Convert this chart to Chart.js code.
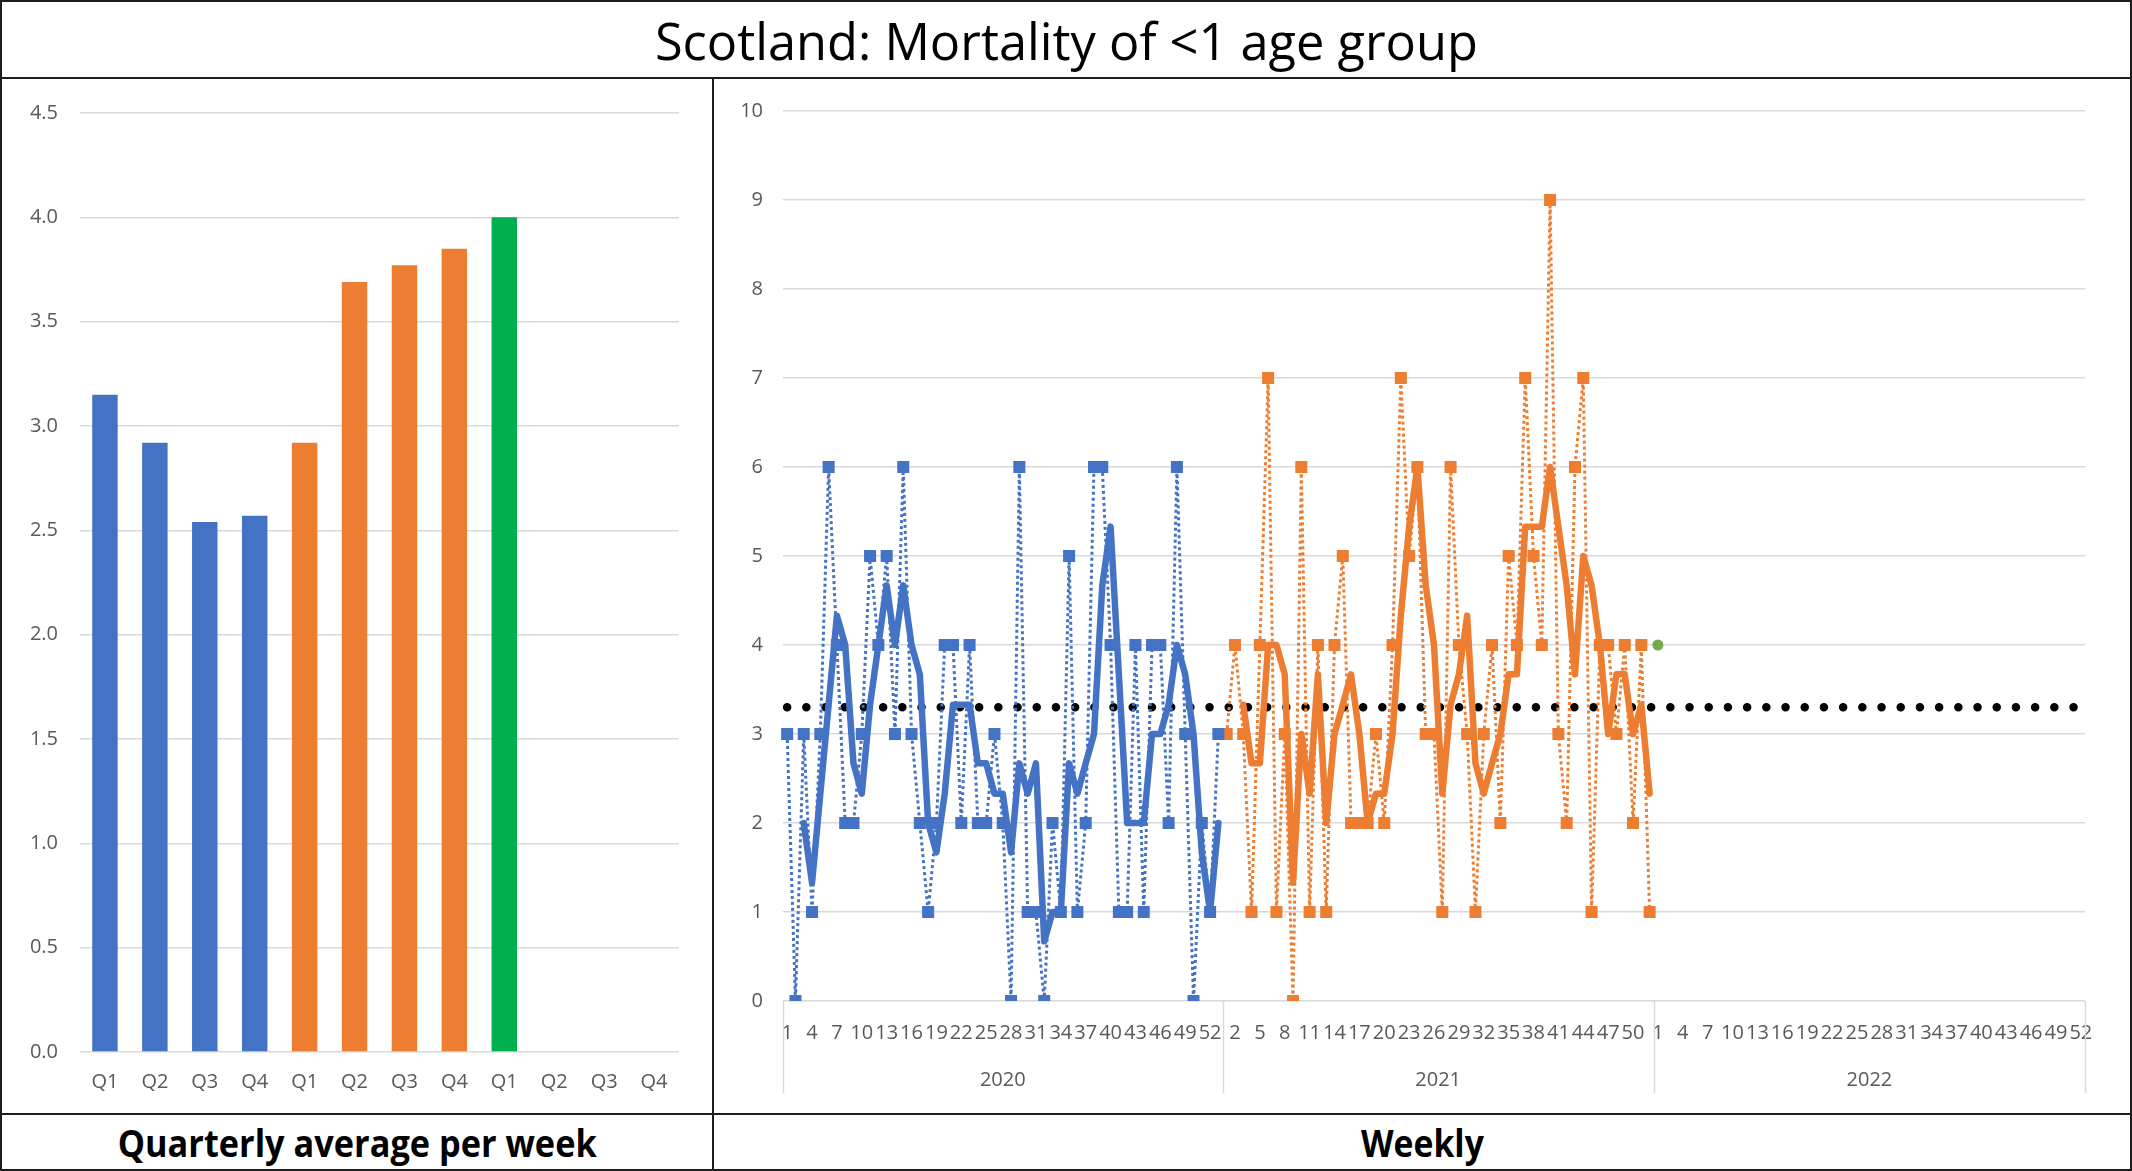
<!DOCTYPE html>
<html>
<head>
<meta charset="utf-8">
<script src="https://cdn.jsdelivr.net/npm/chart.js@4/dist/chart.umd.min.js"></script>
<style>
  html, body { margin: 0; padding: 0; background: #fff; }
  body { width: 2132px; height: 1171px; position: relative; overflow: hidden; font-family: 'Open Sans', sans-serif; }
  .line { position: absolute; background: #1e1e1e; }
  .cell { position: absolute; display: flex; align-items: center; justify-content: center; }
  .txt { display: inline-block; white-space: nowrap; transform-origin: center center; }
  #c1wrap { position: absolute; left: 2px; top: 79px; width: 710px; height: 1034px; }
  #c2wrap { position: absolute; left: 714px; top: 79px; width: 1416px; height: 1034px; }
</style>
</head>
<body>
<div class="line" style="left:0;top:0;width:2132px;height:2px"></div>
<div class="line" style="left:0;top:77px;width:2132px;height:2px"></div>
<div class="line" style="left:0;top:1113px;width:2132px;height:2px"></div>
<div class="line" style="left:0;top:1169px;width:2132px;height:2px"></div>
<div class="line" style="left:0;top:0;width:2px;height:1171px"></div>
<div class="line" style="left:2130px;top:0;width:2px;height:1171px"></div>
<div class="line" style="left:712px;top:77px;width:2px;height:1094px"></div>

<div class="cell" style="left:2px;top:2px;width:2128px;height:75px"><span class="txt" id="title" style="font-size:52px;color:#000">Scotland: Mortality of &lt;1 age group</span></div>
<div class="cell" style="left:2px;top:1115px;width:710px;height:54px"><span class="txt" id="lab1" style="font-size:37px;font-weight:700;color:#000">Quarterly average per week</span></div>
<div class="cell" style="left:714px;top:1115px;width:1416px;height:54px"><span class="txt" id="lab2" style="font-size:37px;font-weight:700;color:#000">Weekly</span></div>

<div id="c1wrap"><canvas id="c1"></canvas></div>
<div id="c2wrap"><canvas id="c2"></canvas></div>

<script>
// ---------------- DATA ----------------
const QUARTER_LABELS = ['Q1','Q2','Q3','Q4','Q1','Q2','Q3','Q4','Q1','Q2','Q3','Q4'];
const QUARTER_AVG = [3.15, 2.92, 2.54, 2.57, 2.92, 3.69, 3.77, 3.85, 4.00, null, null, null];
const QUARTER_YEAR = [2020, 2020, 2020, 2020, 2021, 2021, 2021, 2021, 2022, 2022, 2022, 2022];

const YEARS = ['2020', '2021', '2022'];
const WEEKS_IN_YEAR = [53, 52, 52];

const WEEKLY_2020 = [3,0,3,1,3,6,4,2,2,3,5,4,5,3,6,3,2,1,2,4,4,2,4,2,2,3,2,0,6,1,1,0,2,1,5,1,2,6,6,4,1,1,4,1,4,4,2,6,3,0,2,1,3];
const WEEKLY_2021 = [3,4,3,1,4,7,1,3,0,6,1,4,1,4,5,2,2,2,3,2,4,7,5,6,3,3,1,6,4,3,1,3,4,2,5,4,7,5,4,9,3,2,6,7,1,4,4,3,4,2,4,1];
const WEEKLY_2022 = [4];

// 3-week moving average trendlines (as drawn), starting at week 3 of each year
const MOVAVG_2020 = [2,1.33,2.33,3.33,4.33,4,2.67,2.33,3.33,4,4.67,4,4.67,4,3.67,2,1.67,2.33,3.33,3.33,3.33,2.67,2.67,2.33,2.33,1.67,2.67,2.33,2.67,0.67,1,1,2.67,2.33,2.67,3,4.67,5.33,3.67,2,2,2,3,3,3.33,4,3.67,3,1.67,1,2];
const MOVAVG_2021 = [3.33,2.67,2.67,4,4,3.67,1.33,3,2.33,3.67,2,3,3.33,3.67,3,2,2.33,2.33,3,4.33,5.33,6,4.67,4,2.33,3.33,3.67,4.33,2.67,2.33,2.67,3,3.67,3.67,5.33,5.33,5.33,6,5.33,4.67,3.67,5,4.67,4,3,3.67,3.67,3,3.33,2.33];

const AVG_LEVEL = 3.3;

// ---------------- STYLE ----------------
const BLUE = '#4472C4', ORANGE = '#ED7D31', GREEN_BAR = '#00B050', GREEN_PT = '#70AD47';
const GRID = '#d9d9d9', TICK = '#595959';
const FONT = "'Open Sans', sans-serif";
Chart.defaults.font.family = FONT;
Chart.defaults.color = TICK;

// ---------------- fit HTML labels ----------------
function fitWidth(id, target) {
  const el = document.getElementById(id);
  const w = el.getBoundingClientRect().width;
  if (w > 0) el.style.transform = 'scaleX(' + (target / w) + ')';
}
fitWidth('title', 823);
fitWidth('lab1', 479);
fitWidth('lab2', 123);

// ---------------- LEFT: quarterly bars ----------------
const yearColor = { 2020: BLUE, 2021: ORANGE, 2022: GREEN_BAR };
new Chart(document.getElementById('c1'), {
  type: 'bar',
  data: {
    labels: QUARTER_LABELS,
    datasets: [{
      data: QUARTER_AVG,
      backgroundColor: QUARTER_YEAR.map(y => yearColor[y]),
      borderWidth: 0,
      barPercentage: 0.51,
      categoryPercentage: 1.0
    }]
  },
  options: {
    responsive: true, maintainAspectRatio: false, animation: false,
    layout: { padding: { top: 32, right: 33, left: 0, bottom: 0 } },
    plugins: { legend: { display: false }, tooltip: { enabled: false } },
    scales: {
      x: {
        grid: { display: false, drawTicks: false },
        border: { display: false },
        ticks: { font: { size: 20 }, color: TICK, padding: 18, maxRotation: 0 },
        afterFit(s) { s.height = 61; }
      },
      y: {
        min: 0, max: 4.5,
        grid: { color: GRID, lineWidth: 1.5, drawTicks: false },
        border: { display: false },
        ticks: { stepSize: 0.5, font: { size: 20 }, color: TICK, padding: 22,
                 callback: v => Number(v).toFixed(1) },
        afterFit(s) { s.width = 78; }
      }
    }
  }
});

// ---------------- RIGHT: weekly lines ----------------
const weekLabels = [];
YEARS.forEach((yr, k) => {
  for (let w = 1; w <= WEEKS_IN_YEAR[k]; w++) weekLabels.push(String(w));
});
const N = weekLabels.length;
const start2021 = WEEKS_IN_YEAR[0];
const start2022 = WEEKS_IN_YEAR[0] + WEEKS_IN_YEAR[1];

function place(values, offset) {
  const out = new Array(N).fill(null);
  values.forEach((v, i) => { out[offset + i] = v; });
  return out;
}

const yearGroups = {
  id: 'yearGroups',
  afterDraw(chart) {
    const x = chart.scales.x, ctx = chart.ctx;
    const half = (x.getPixelForValue(1) - x.getPixelForValue(0)) / 2;
    const base = chart.chartArea.bottom;
    const bounds = [0, start2021, start2022, N].map(i => i < N ? x.getPixelForValue(i) - half : x.getPixelForValue(N - 1) + half);
    ctx.save();
    ctx.strokeStyle = GRID; ctx.lineWidth = 1.5;
    bounds.forEach(b => {
      ctx.beginPath(); ctx.moveTo(Math.round(b) + 0.5, base); ctx.lineTo(Math.round(b) + 0.5, base + 92); ctx.stroke();
    });
    ctx.fillStyle = TICK; ctx.font = '20px ' + FONT; ctx.textAlign = 'center'; ctx.textBaseline = 'middle';
    YEARS.forEach((yr, k) => { ctx.fillText(yr, (bounds[k] + bounds[k + 1]) / 2, base + 79); });
    ctx.restore();
  }
};

new Chart(document.getElementById('c2'), {
  type: 'line',
  data: {
    labels: weekLabels,
    datasets: [
      { data: place(MOVAVG_2020, 2), borderColor: BLUE, borderWidth: 6.5, pointRadius: 0, tension: 0, borderJoinStyle: 'round', borderCapStyle: 'round' },
      { data: place(MOVAVG_2021, start2021 + 2), borderColor: ORANGE, borderWidth: 6.5, pointRadius: 0, tension: 0, borderJoinStyle: 'round', borderCapStyle: 'round' },
      { data: place(WEEKLY_2020, 0), borderColor: BLUE, borderWidth: 3, borderDash: [3, 3],
        pointStyle: 'rect', pointRadius: 8.5, pointBackgroundColor: BLUE, pointBorderWidth: 0, tension: 0 },
      { data: place(WEEKLY_2021, start2021), borderColor: ORANGE, borderWidth: 3, borderDash: [3, 3],
        pointStyle: 'rect', pointRadius: 8.5, pointBackgroundColor: ORANGE, pointBorderWidth: 0, tension: 0 },
      { data: place(WEEKLY_2022, start2022), borderColor: GREEN_PT, borderWidth: 2.5,
        pointStyle: 'circle', pointRadius: 5.5, pointBackgroundColor: GREEN_PT, pointBorderWidth: 0 },
      { data: weekLabels.map(() => AVG_LEVEL), borderColor: '#000', borderWidth: 8.5, borderDash: [0, 19.2],
        borderCapStyle: 'round', pointRadius: 0, tension: 0 }
    ]
  },
  options: {
    responsive: true, maintainAspectRatio: false, animation: false,
    spanGaps: false,
    layout: { padding: { top: 32, right: 45, left: 0, bottom: 0 } },
    plugins: { legend: { display: false }, tooltip: { enabled: false } },
    scales: {
      x: {
        offset: true,
        grid: { display: false, drawTicks: false },
        border: { display: false },
        ticks: {
          autoSkip: false, maxRotation: 0, minRotation: 0, font: { size: 20 }, color: TICK, padding: 20,
          callback(v, i) { return i % 3 === 0 ? this.getLabelForValue(v) : ''; }
        },
        afterFit(s) { s.height = 112; }
      },
      y: {
        min: 0, max: 10,
        grid: { color: GRID, lineWidth: 1.5, drawTicks: false },
        border: { display: false },
        ticks: { stepSize: 1, font: { size: 20 }, color: TICK, padding: 20 },
        afterFit(s) { s.width = 69; }
      }
    }
  },
  plugins: [yearGroups]
});
</script>
</body>
</html>
